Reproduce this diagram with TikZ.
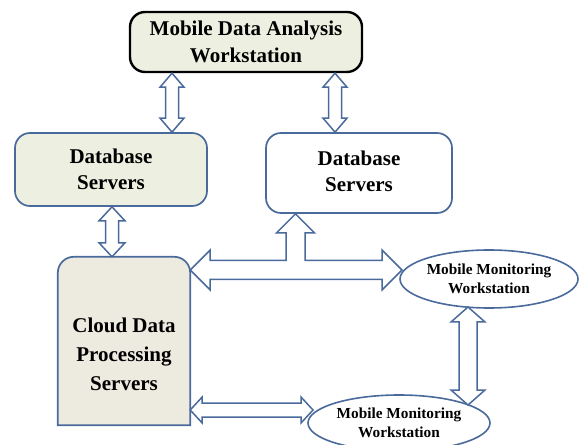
\documentclass[tikz,border=0pt]{standalone}
\usepackage{fontspec}
\setmainfont{Liberation Serif}
\usetikzlibrary{calc,shapes.geometric}
\definecolor{bblue}{HTML}{4A6A9C}
\definecolor{gfill}{HTML}{EDF0E0}
\definecolor{cfill}{HTML}{EDEAE0}
\tikzset{
  boxbase/.style={rounded corners=15pt, line width=1.7pt, draw=bblue, align=center, inner sep=0pt,
    font=\fontsize{21}{26.5}\selectfont\bfseries},
  topbox/.style={boxbase, draw=black, line width=2.4pt, fill=gfill},
  ellnode/.style={ellipse, draw=bblue, line width=1.6pt, fill=white, align=center, inner sep=0pt,
    font=\fontsize{15.3}{19}\selectfont\bfseries},
  bigtxt/.style={align=center, font=\fontsize{21}{29}\selectfont\bfseries},
  harrow/.style={draw=bblue, line width=1.5pt, fill=white, line join=miter},
}
% vertical hollow double arrow: top tip, bottom tip, head half, shaft half, head length
\newcommand\myvarrow[5]{%
  \draw[harrow] let \p1=(#1), \p2=(#2) in
    (\x1,\y1) -- (\x1+#3pt,\y1-#5pt) -- (\x1+#4pt,\y1-#5pt) -- (\x1+#4pt,\y2+#5pt)
    -- (\x1+#3pt,\y2+#5pt) -- (\x1,\y2) -- (\x1-#3pt,\y2+#5pt) -- (\x1-#4pt,\y2+#5pt)
    -- (\x1-#4pt,\y1-#5pt) -- (\x1-#3pt,\y1-#5pt) -- cycle;}
% horizontal hollow double arrow: left tip, right tip, head half, shaft half, head length
\newcommand\myharrow[5]{%
  \draw[harrow] let \p1=(#1), \p2=(#2) in
    (\x1,\y1) -- (\x1+#5pt,\y1+#3pt) -- (\x1+#5pt,\y1+#4pt) -- (\x2-#5pt,\y1+#4pt)
    -- (\x2-#5pt,\y1+#3pt) -- (\x2,\y1) -- (\x2-#5pt,\y1-#3pt) -- (\x2-#5pt,\y1-#4pt)
    -- (\x1+#5pt,\y1-#4pt) -- (\x1+#5pt,\y1-#3pt) -- cycle;}
\begin{document}
\begin{tikzpicture}[x=1pt,y=1pt]
\useasboundingbox (0,0) rectangle (585,444);
% nodes
\node[topbox, minimum width=232pt, minimum height=60pt] (top) at (246,402)
  {Mobile Data Analysis\\Workstation};
\node[boxbase, fill=gfill, minimum width=192pt, minimum height=73pt] (dbl) at (111,274.5)
  {Database\\Servers};
\node[boxbase, fill=white, minimum width=186pt, minimum height=80pt] (dbr) at (359,271)
  {\raisebox{4pt}{\begin{tabular}{@{}c@{}}Database\\Servers\end{tabular}}};
\node[inner sep=0pt, minimum width=132pt, minimum height=168pt] (cloud) at (124,103) {};
\draw[line width=1.7pt, draw=bblue, fill=cfill]
  (cloud.south west) -- ($(cloud.north west)+(0,-16)$) arc[start angle=180, end angle=90, radius=16]
  -- ($(cloud.north east)+(-16,0)$) arc[start angle=90, end angle=0, radius=16]
  -- (cloud.south east) -- cycle;
\node[bigtxt] (cloudtxt) at ([yshift=-13pt]cloud.center) {Cloud Data\\Processing\\Servers};
\node[ellnode, minimum width=178pt, minimum height=58pt] (e1) at (489,165)
  {Mobile Monitoring\\Workstation};
\node[ellnode, minimum width=182pt, minimum height=56pt] (e2) at (399,21)
  {Mobile Monitoring\\Workstation};
% connector end points on the ellipses
\coordinate (e1l) at (402,174);
\coordinate (e1b) at (468,137);
\coordinate (e2t) at (468,39);
\coordinate (e2l) at (313,34);
% connectors
\myvarrow{172,0 |- top.south}{172,0 |- dbl.north}{12}{6.5}{14}
\myvarrow{335,0 |- top.south}{335,0 |- dbr.north}{12}{6.5}{14}
\myvarrow{112,0 |- dbl.south}{112,0 |- cloud.north}{13}{6.5}{14}
\myvarrow{e1b}{e2t}{17}{9}{15}
\myharrow{cloud.east |- e2l}{e2l}{13}{7}{12}
% T-shaped arrow: cloud <-> e1, branch up to dbr
\draw[harrow] let \p1=(cloud.east |- e1l), \p2=(e1l), \p3=(295.5,0 |- dbr.south) in
  (\x1,\y1) -- (\x1+20pt,\y1+20pt) -- (\x1+20pt,\y1+9.5pt) -- (\x3-9.5pt,\y1+9.5pt)
  -- (\x3-9.5pt,\y3-19pt) -- (\x3-19pt,\y3-19pt) -- (\x3,\y3) -- (\x3+19pt,\y3-19pt)
  -- (\x3+9.5pt,\y3-19pt) -- (\x3+9.5pt,\y1+9.5pt) -- (\x2-20pt,\y1+9.5pt)
  -- (\x2-20pt,\y1+20pt) -- (\x2,\y2) -- (\x2-20pt,\y1-20pt) -- (\x2-20pt,\y1-9.5pt)
  -- (\x1+20pt,\y1-9.5pt) -- (\x1+20pt,\y1-20pt) -- cycle;
\end{tikzpicture}
\end{document}
